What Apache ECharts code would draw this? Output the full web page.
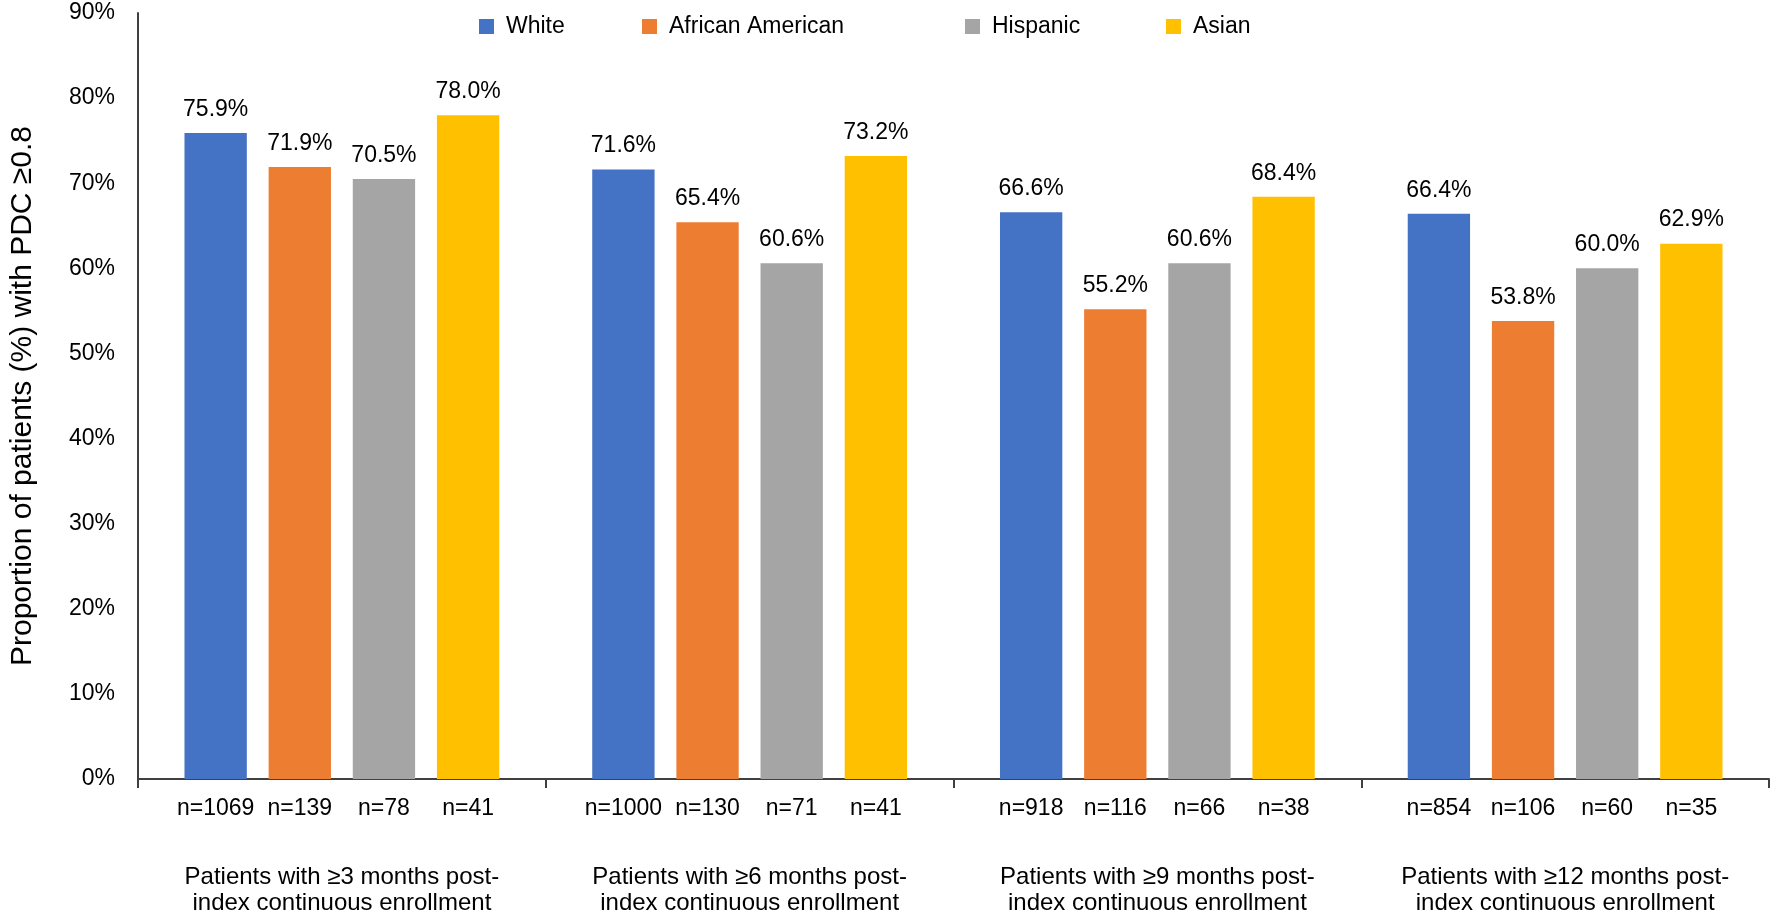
<!DOCTYPE html>
<html>
<head>
<meta charset="utf-8">
<script src="https://cdn.jsdelivr.net/npm/echarts@6/dist/echarts.min.js"></script>
<style>
  html, body { margin: 0; padding: 0; background: #fff; }
  #main { width: 1770px; height: 916px; }
</style>
</head>
<body>
<div id="main"></div>
<script>
// 分组（X轴类目）
var categories = [
    'Patients with \u22653 months post-\nindex continuous enrollment',
    'Patients with \u22656 months post-\nindex continuous enrollment',
    'Patients with \u22659 months post-\nindex continuous enrollment',
    'Patients with \u226512 months post-\nindex continuous enrollment'
];
var races = ['White', 'African American', 'Hispanic', 'Asian'];
var colors = ['#4472C4', '#ED7D31', '#A5A5A5', '#FFC000'];

// 各人群 PDC>=0.8 比例（%）
var white = [75.9, 71.6, 66.6, 66.4];
var africanAmerican = [71.9, 65.4, 55.2, 53.8];
var hispanic = [70.5, 60.6, 60.6, 60.0];
var asian = [78.0, 73.2, 68.4, 62.9];

// 样本量 n
var nWhite = [1069, 1000, 918, 854];
var nAfricanAmerican = [139, 130, 116, 106];
var nHispanic = [78, 71, 66, 60];
var nAsian = [41, 41, 38, 35];

var yTicks = [0, 10, 20, 30, 40, 50, 60, 70, 80, 90];

var values = [white, africanAmerican, hispanic, asian];
var counts = [nWhite, nAfricanAmerican, nHispanic, nAsian];
var legendLeft = [474, 637, 960, 1161];

var font = 'Liberation Sans, Arial, sans-serif';

var myChart = echarts.init(document.getElementById('main'));

var series = [];
for (var i = 0; i < races.length; i++) {
    // 零高度柱，仅用于在坐标轴下方显示 n=
    series.push({
        name: races[i] + '_n',
        type: 'bar',
        stack: 's' + i,
        data: counts[i].map(function () { return 0; }),
        barCategoryGap: '22.8%',
        barGap: '35%',
        silent: true,
        itemStyle: { color: colors[i] },
        label: {
            show: true,
            position: 'bottom',
            distance: 18,
            fontFamily: font,
            fontSize: 23,
            color: '#000',
            formatter: (function (arr) {
                return function (p) { return 'n=' + arr[p.dataIndex]; };
            })(counts[i])
        }
    });
    series.push({
        name: races[i],
        type: 'bar',
        stack: 's' + i,
        data: values[i],
        barCategoryGap: '22.8%',
        barGap: '35%',
        itemStyle: { color: colors[i] },
        label: {
            show: true,
            position: 'top',
            distance: 12,
            fontFamily: font,
            fontSize: 23,
            color: '#000',
            formatter: function (p) { return p.value.toFixed(1) + '%'; }
        }
    });
}

var legends = races.map(function (r, i) {
    return {
        data: [r],
        left: legendLeft[i],
        top: 10,
        itemWidth: 15,
        itemHeight: 15,
        icon: 'rect',
        textStyle: { fontFamily: font, fontSize: 23, color: '#000', padding: [0, 0, 0, 7] }
    };
});

myChart.setOption({
    animation: false,
    legend: legends,
    grid: { left: 122, right: 1, top: 13, bottom: 133 },
    xAxis: {
        type: 'category',
        data: categories,
        axisLine: { lineStyle: { color: '#404040', width: 2 } },
        axisTick: { show: true, length: 9, lineStyle: { color: '#404040', width: 2 } },
        axisLabel: {
            interval: 0,
            margin: 85,
            fontFamily: font,
            fontSize: 24,
            lineHeight: 26,
            color: '#000'
        }
    },
    yAxis: {
        type: 'value',
        min: yTicks[0],
        max: yTicks[yTicks.length - 1],
        interval: 10,
        name: 'Proportion of patients (%) with PDC \u22650.8',
        nameLocation: 'middle',
        nameGap: 100,
        nameTextStyle: { fontFamily: font, fontSize: 30, color: '#000' },
        axisLine: { show: true, lineStyle: { color: '#404040', width: 2 } },
        axisTick: { show: false },
        splitLine: { show: false },
        axisLabel: {
            margin: 23,
            fontFamily: font,
            fontSize: 23,
            color: '#000',
            formatter: '{value}%'
        }
    },
    series: series
});
</script>
</body>
</html>
